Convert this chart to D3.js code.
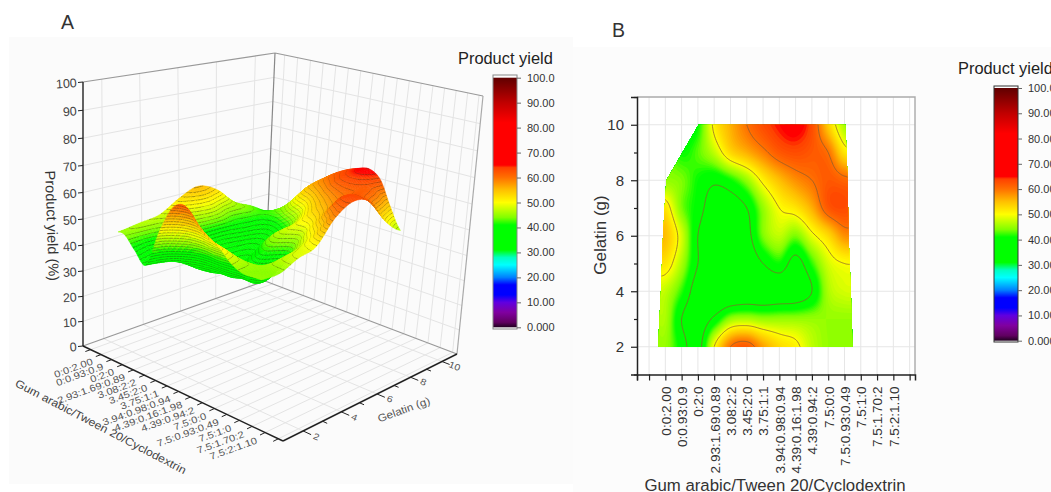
<!DOCTYPE html>
<html>
<head>
<meta charset="utf-8">
<script src="https://cdnjs.cloudflare.com/ajax/libs/d3/7.8.5/d3.min.js"></script>
<style>
  html, body { margin: 0; padding: 0; background: #fff; overflow: hidden; }
  svg { display: block; }
  text { font-family: "Liberation Sans", Arial, sans-serif; fill: #333; }
</style>
</head>
<body>
<svg id="chart" width="1051" height="492"></svg>
<script>
const categories = ["0:0:2.00", "0:0.93:0.9", "0:2:0", "2.93:1.69:0.89", "3.08:2:2", "3.45:2:0", "3.75:1:1",
  "3.94:0.98:0.94", "4.39:0.16:1.98", "4.39:0.94:2", "7.5:0:0", "7.5:0.93:0.49", "7.5:1:0", "7.5:1.70:2", "7.5:2:1.10"];

// yield, columns are category positions -1..12
const columnPos = [-1, 0, 1, 2, 3, 4, 5, 6, 7, 8, 9, 10, 11, 12];
const gelatinRows = [2, 3, 4, 5, 6, 7, 8, 9, 10];
const yieldG2  = [44, 45, 40, 36, 50, 60, 62, 57, 53, 51, 47, 45, 45, 45];
const yieldG3  = [45, 46, 38, 35, 39, 45, 46, 45, 45, 45, 45, 45, 45, 45];
const yieldG4  = [48, 47, 42, 35, 32, 32, 33, 33, 34, 34, 38, 46, 48, 48];
const yieldG5  = [51, 52, 46, 38, 34, 33, 34, 38, 41, 36, 42, 48, 50, 50];
const yieldG6  = [56, 55, 48, 38, 34, 31.5, 36, 44, 47, 44, 49, 53, 58, 58];
const yieldG7  = [53, 52, 44, 40, 35, 35, 38, 45, 50, 52, 56, 62, 63, 61];
const yieldG8  = [46, 45, 44, 41, 39, 41, 45, 51, 55, 58, 60, 62, 61, 60];
const yieldG9  = [44, 44, 41, 43, 47, 53, 56, 59, 62, 63, 62, 60, 52, 50];
const yieldG10 = [38, 38, 38, 41, 51, 56, 60, 63, 65, 66, 63, 54, 46, 44];
const yieldRows = [yieldG2, yieldG3, yieldG4, yieldG5, yieldG6, yieldG7, yieldG8, yieldG9, yieldG10];

// outline of the measured region, category position at each gelatin level
const edgeRows = [2, 4, 6, 8, 10];
const leftEdge = [-0.45, -0.27, -0.14, 0.06, 2.04];
const rightEdge = [11.5, 11.39, 11.25, 11.19, 11.06];

const zTicks = [0, 10, 20, 30, 40, 50, 60, 70, 80, 90, 100];
const gelatinTicks = [2, 4, 6, 8, 10];
const legendTicks = [0, 10, 20, 30, 40, 50, 60, 70, 80, 90, 100];
const legendLabels = ["0.000", "10.00", "20.00", "30.00", "40.00", "50.00", "60.00", "70.00", "80.00", "90.00", "100.0"];
const colorStops = [0, 2, 6, 10, 13, 17, 20, 25, 28, 31, 41, 44, 50, 55, 60, 64, 65, 82, 90, 100];
const colorValues = ["#200020", "#600060", "#8000a0", "#6000e0", "#0000ff", "#0000ff", "#0080ff", "#00ffff", "#00ffc0", "#00ff00",
  "#00ff00", "#80ff00", "#ffff00", "#ffc000", "#ff7000", "#ff4000", "#ff0000", "#ff0000", "#c00000", "#600000"];
const contourLevels = [38, 50, 60];

const color = d3.scaleLinear().domain(colorStops).range(colorValues).clamp(true);
const svg = d3.select("#chart");

svg.append("rect").attr("x", 9).attr("y", 37).attr("width", 564).attr("height", 447).attr("fill", "#fbfbfb");
svg.append("rect").attr("x", 573).attr("y", 47).attr("width", 478).attr("height", 445).attr("fill", "#fcfcfc");

const leftAt = d3.scaleLinear().domain(edgeRows).range(leftEdge);
const rightAt = d3.scaleLinear().domain(edgeRows).range(rightEdge);

// smooth reading between the grid values, only used for drawing
function catmull(p0, p1, p2, p3, t) {
  return 0.5 * (2 * p1 + (p2 - p0) * t + (2 * p0 - 5 * p1 + 4 * p2 - p3) * t * t + (3 * p1 - p0 - 3 * p2 + p3) * t * t * t);
}
function yieldAt(pos, gel) {
  const fx = Math.max(0, Math.min(columnPos.length - 1.0001, pos - columnPos[0]));
  const fy = Math.max(0, Math.min(gelatinRows.length - 1.0001, gel - gelatinRows[0]));
  const ix = Math.floor(fx), iy = Math.floor(fy);
  const cell = (r, c) => yieldRows[Math.max(0, Math.min(yieldRows.length - 1, r))][Math.max(0, Math.min(columnPos.length - 1, c))];
  const rows = [-1, 0, 1, 2].map(d => catmull(cell(iy + d, ix - 1), cell(iy + d, ix), cell(iy + d, ix + 1), cell(iy + d, ix + 2), fx - ix));
  return catmull(rows[0], rows[1], rows[2], rows[3], fy - iy);
}

const legendGradient = svg.append("defs").append("linearGradient").attr("id", "legendFill")
  .attr("x1", 0).attr("x2", 0).attr("y1", 1).attr("y2", 0);
legendGradient.selectAll("stop").data(colorStops).join("stop")
  .attr("offset", d => d / 100).attr("stop-color", d => color(d));

function drawLegend(x, yTop, yBottom, barTop, barBottom, titleX, titleY, frame) {
  const g = svg.append("g");
  const y = d3.scaleLinear().domain([0, 100]).range([yBottom, yTop]);
  g.append("text").attr("x", titleX).attr("y", titleY).attr("font-size", 16.4).style("fill", "#222").text("Product yield");
  g.append("rect").attr("x", x).attr("y", barTop).attr("width", 24).attr("height", barBottom - barTop).attr("fill", "#fff");
  g.append("rect").attr("x", x).attr("y", y(100)).attr("width", 24).attr("height", y(0) - y(100)).attr("fill", "url(#legendFill)");
  g.append("rect").attr("x", x).attr("y", barTop).attr("width", 24).attr("height", barBottom - barTop)
    .attr("fill", "none").attr("stroke", frame).attr("stroke-width", 1);
  const axis = d3.axisRight(y).tickValues(legendTicks).tickSize(4).tickPadding(6)
    .tickFormat((d, i) => legendLabels[i]);
  const ag = g.append("g").attr("transform", `translate(${x + 24},0)`).call(axis);
  ag.select(".domain").remove();
  ag.selectAll("line").attr("stroke", "#666");
  ag.selectAll("text").attr("font-size", 11).attr("font-family", "Liberation Sans").style("fill", "#333");
}

// ---------- panel A, perspective box ----------
function squareToQuad(q) {
  const [x0, y0] = q[0], [x1, y1] = q[1], [x2, y2] = q[2], [x3, y3] = q[3];
  const dx1 = x1 - x2, dx2 = x3 - x2, sx = x0 - x1 + x2 - x3;
  const dy1 = y1 - y2, dy2 = y3 - y2, sy = y0 - y1 + y2 - y3;
  const den = dx1 * dy2 - dx2 * dy1;
  const g = (sx * dy2 - dx2 * sy) / den, h = (dx1 * sy - sx * dy1) / den;
  const a = x1 - x0 + g * x1, b = x3 - x0 + h * x3, d = y1 - y0 + g * y1, e = y3 - y0 + h * y3;
  return (u, v) => {
    const w = g * u + h * v + 1;
    return [(a * u + b * v + x0) / w, (d * u + e * v + y0) / w];
  };
}
const floorMap = squareToQuad([[83, 346], [283, 441], [457, 354], [265, 281]]);
const roofMap = squareToQuad([[83, 82], [300, 122], [483, 96], [275, 53]]);
const uScale = d3.scaleLinear().domain([-1.74, 15.35]).range([0, 1]);
const vScale = d3.scaleLinear().domain([1, 11]).range([0, 1]);
const zScale = d3.scaleLinear().domain([0, 100]).range([0, 1]);
const zBend = 1.08;
function project(pos, gel, z) {
  const u = uScale(pos), v = vScale(gel), t = zScale(z);
  const f = floorMap(u, v), r = roofMap(u, v);
  const s = t / (t + zBend * (1 - t));
  return [f[0] + (r[0] - f[0]) * s, f[1] + (r[1] - f[1]) * s];
}
const line3 = d3.line();
const panelA = svg.append("g");
const grid3 = panelA.append("g").attr("stroke", "#e4e4e4").attr("stroke-width", 1).attr("fill", "none");
const catPositions = d3.range(-1, 16);
function seg(a, b, parent, stroke, width) {
  const p = (parent || grid3).append("path").attr("d", line3([a, b]));
  if (stroke) p.attr("stroke", stroke).attr("fill", "none");
  if (width) p.attr("stroke-width", width);
  return p;
}
const [xLo, xHi] = uScale.domain(), [gLo, gHi] = vScale.domain();
zTicks.slice(1, -1).forEach(z => {
  seg(project(xLo, gLo, z), project(xLo, gHi, z));
  seg(project(xLo, gHi, z), project(xHi, gHi, z));
});
gelatinTicks.forEach(g => {
  seg(project(xLo, g, 0), project(xLo, g, 100));
  seg(project(xLo, g, 0), project(xHi, g, 0));
});
catPositions.forEach(c => {
  seg(project(c, gHi, 0), project(c, gHi, 100));
  seg(project(c, gLo, 0), project(c, gHi, 0));
});
// box edges
const edges = panelA.append("g");
seg(project(xLo, gLo, 100), project(xLo, gHi, 100), edges, "#999", 1.2);
seg(project(xLo, gHi, 100), project(xHi, gHi, 100), edges, "#999", 1.2);
seg(project(xLo, gHi, 0), project(xLo, gHi, 100), edges, "#888", 1.2);
seg(project(xHi, gHi, 0), project(xHi, gHi, 100), edges, "#aaa", 1.2);
seg(project(xLo, gLo, 0), project(xLo, gHi, 0), edges, "#999", 1.2);
seg(project(xLo, gHi, 0), project(xHi, gHi, 0), edges, "#999", 1.2);
seg(project(xLo, gLo, 0), project(xLo, gLo, 100), edges, "#222", 1.4);
seg(project(xLo, gLo, 0), project(xHi, gLo, 0), edges, "#222", 1.4);
seg(project(xHi, gLo, 0), project(xHi, gHi, 0), edges, "#222", 1.4);

// surface, painted from the far corner to the near one
const meshX = d3.range(0, 1.0001, 1 / 90);
const meshG = d3.range(2, 10.0001, 8 / 56);
const meshPoint = (tx, g) => {
  const pos = leftAt(g) + (rightAt(g) - leftAt(g)) * tx;
  return { pos, g, z: yieldAt(pos, g) };
};
const mesh = meshG.map(g => meshX.map(tx => meshPoint(tx, g)));
const quads = [];
for (let r = 0; r < mesh.length - 1; r++) {
  for (let c = 0; c < meshX.length - 1; c++) {
    const pts = [mesh[r][c], mesh[r][c + 1], mesh[r + 1][c + 1], mesh[r + 1][c]];
    quads.push({ pts, mean: d3.mean(pts, d => d.z), depth: d3.mean(pts, d => uScale(d.pos) - vScale(d.g)) });
  }
}
quads.sort((a, b) => d3.ascending(a.depth, b.depth));
const isoStep = 1.2;
function isoPath(pts) {
  const lo = d3.min(pts, d => d.z), hi = d3.max(pts, d => d.z);
  let d = "";
  for (let k = Math.ceil(lo / isoStep); k * isoStep < hi; k++) {
    const lev = k * isoStep, hits = [];
    pts.forEach((a, i) => {
      const b = pts[(i + 1) % 4];
      if ((a.z < lev) !== (b.z < lev)) {
        const t = (lev - a.z) / (b.z - a.z);
        hits.push(project(a.pos + (b.pos - a.pos) * t, a.g + (b.g - a.g) * t, lev));
      }
    });
    if (hits.length >= 2) d += "M" + hits[0].map(n => n.toFixed(1)) + "L" + hits[1].map(n => n.toFixed(1));
  }
  return d;
}
const surface = panelA.append("g");
quads.forEach(q => {
  const fill = color(q.mean);
  surface.append("path")
    .attr("d", line3(q.pts.map(p => project(p.pos, p.g, p.z))) + "Z")
    .attr("fill", fill).attr("stroke", fill).attr("stroke-width", 0.5);
  const iso = isoPath(q.pts);
  if (iso) surface.append("path").attr("d", iso).attr("stroke", "#33331a").attr("stroke-opacity", 0.7).attr("stroke-width", 0.6).attr("fill", "none");
});

// axes of the box
const axis3 = panelA.append("g");
zTicks.forEach(z => {
  const p = project(xLo, gLo, z);
  seg(p, [p[0] - 5, p[1] + 0.5], axis3, "#222", 1);
  axis3.append("text").attr("transform", `translate(${p[0] - 6},${p[1] + 5}) rotate(-4)`)
    .attr("text-anchor", "end").attr("font-size", 12.5).style("fill", "#444").text(z);
});
catPositions.forEach(c => {
  const p = project(c, gLo, 0), q = project(c, gLo - 0.25, 0);
  seg(p, q, axis3, "#222", 1);
});
categories.forEach((name, i) => {
  const p = project(i, gLo - 0.45, 0);
  axis3.append("text").attr("transform", `translate(${p[0] + 2},${p[1] + 6}) rotate(-20) scale(1,0.85)`)
    .attr("text-anchor", "end").attr("font-size", 11.2).style("fill", "#555").text(name);
});
d3.range(2, 11).forEach(g => {
  const p = project(xHi, g, 0), q = project(xHi + (g % 2 ? 0.35 : 0.6), g, 0);
  seg(p, q, axis3, "#222", 1);
});
gelatinTicks.forEach(g => {
  const p = project(xHi + 0.9, g, 0);
  axis3.append("text").attr("transform", `translate(${p[0]},${p[1] + 3}) rotate(22) scale(1,0.85)`)
    .attr("text-anchor", "middle").attr("font-size", 10.5).style("fill", "#555").text(g);
});
panelA.append("text").attr("transform", "translate(47,226) rotate(88)").attr("text-anchor", "middle")
  .attr("font-size", 14.5).style("fill", "#333").text("Product yield (%)");
panelA.append("text").attr("transform", "translate(99,430) rotate(27.6) scale(1,0.9)").attr("text-anchor", "middle")
  .attr("font-size", 12.3).style("fill", "#444").text("Gum arabic/Tween 20/Cyclodextrin");
panelA.append("text").attr("transform", "translate(405,413) rotate(-20) scale(1,0.9)").attr("text-anchor", "middle")
  .attr("font-size", 11.8).style("fill", "#555").text("Gelatin (g)");
svg.append("text").attr("x", 61).attr("y", 29).attr("font-size", 19.5).attr("font-family", "Noto Sans").style("fill", "#333").text("A");
svg.append("text").attr("x", 612).attr("y", 37).attr("font-size", 19.5).attr("font-family", "Noto Sans").style("fill", "#333").text("B");
drawLegend(493, 77.7, 327.3, 75, 329, 458, 64, "#888");

// ---------- panel B, filled contours ----------
const xB = d3.scaleLinear().domain([-1.74, 15.33]).range([637, 915]);
const yB = d3.scaleLinear().domain([1, 11]).range([374.5, 97]);
const panelB = svg.append("g");
panelB.append("rect").attr("x", xB.range()[0]).attr("y", yB.range()[1])
  .attr("width", xB.range()[1] - xB.range()[0]).attr("height", yB.range()[0] - yB.range()[1]).attr("fill", "#fff");
const gridB = panelB.append("g").attr("stroke", "#e6e6e6").attr("stroke-width", 1);
catPositions.forEach(c => gridB.append("line").attr("x1", xB(c)).attr("x2", xB(c)).attr("y1", yB.range()[0]).attr("y2", yB.range()[1]));
gelatinTicks.forEach(g => gridB.append("line").attr("y1", yB(g)).attr("y2", yB(g)).attr("x1", xB.range()[0]).attr("x2", xB.range()[1]));

const cellsPerUnit = 16;
const nx = (columnPos[columnPos.length - 1] - columnPos[0]) * cellsPerUnit + 1;
const ny = (gelatinRows[gelatinRows.length - 1] - gelatinRows[0]) * cellsPerUnit + 1;
const sampled = new Array(nx * ny);
for (let j = 0; j < ny; j++) {
  for (let i = 0; i < nx; i++) {
    sampled[j * nx + i] = yieldAt(columnPos[0] + i / cellsPerUnit, gelatinRows[0] + j / cellsPerUnit);
  }
}
const contourPath = d3.geoPath(d3.geoTransform({
  point(x, y) {
    this.stream.point(xB(columnPos[0] + (x - 0.5) / cellsPerUnit), yB(gelatinRows[0] + (y - 0.5) / cellsPerUnit));
  }
}));
const outline = d3.range(2, 10.01, 0.5).map(g => [xB(leftAt(g)), yB(g)])
  .concat(d3.range(10, 1.99, -0.5).map(g => [xB(rightAt(g)), yB(g)]));
svg.append("clipPath").attr("id", "regionClip").append("path").attr("d", line3(outline) + "Z");
const filled = panelB.append("g").attr("clip-path", "url(#regionClip)");
const bandLevels = d3.range(20, 72, 0.5);
filled.selectAll("path.band").data(d3.contours().size([nx, ny]).thresholds(bandLevels)(sampled)).join("path")
  .attr("class", "band").attr("d", contourPath).attr("fill", d => color(d.value + 0.25));
filled.selectAll("path.iso").data(d3.contours().size([nx, ny]).thresholds(contourLevels)(sampled)).join("path")
  .attr("class", "iso").attr("d", contourPath).attr("fill", "none").attr("stroke", "#8a6030").attr("stroke-opacity", 0.85).attr("stroke-width", 0.9);

// frame and axes
panelB.append("path").attr("d", line3([[xB.range()[0], yB.range()[1]], [xB.range()[1], yB.range()[1]], [xB.range()[1], yB.range()[0]]]))
  .attr("fill", "none").attr("stroke", "#aaa").attr("stroke-width", 1.4);
const xAxisB = d3.axisBottom(xB).tickValues([xB.domain()[0]].concat(catPositions)).tickSize(6).tickPadding(0)
  .tickFormat(d => categories[d] || "");
const xg = panelB.append("g").attr("transform", `translate(0,${yB.range()[0]})`).call(xAxisB);
xg.selectAll("text").attr("transform", "rotate(-90)").attr("text-anchor", "end")
  .attr("x", -12).attr("y", 0).attr("dy", "0.36em").attr("font-size", 13.6).attr("font-family", "Liberation Sans").style("fill", "#333");
const yAxisB = d3.axisLeft(yB).tickValues(d3.range(1, 12)).tickSize(6).tickPadding(7)
  .tickFormat(d => gelatinTicks.includes(d) ? d : "");
const yg = panelB.append("g").attr("transform", `translate(${xB.range()[0]},0)`).call(yAxisB);
yg.selectAll("line").attr("x2", d => gelatinTicks.includes(d) ? -6 : -3);
yg.selectAll("text").attr("font-size", 15).attr("font-family", "Liberation Sans").style("fill", "#333");
[xg, yg].forEach(a => a.selectAll(".domain").attr("stroke", "#222").attr("stroke-width", 1.5));
[xg, yg].forEach(a => a.selectAll("line").attr("stroke", "#222").attr("stroke-width", 1.2));
panelB.append("text").attr("transform", "translate(606,235) rotate(-90)").attr("text-anchor", "middle")
  .attr("font-size", 17).style("fill", "#333").text("Gelatin (g)");
panelB.append("text").attr("x", 775).attr("y", 490.5).attr("text-anchor", "middle")
  .attr("font-size", 16.8).style("fill", "#333").text("Gum arabic/Tween 20/Cyclodextrin");
drawLegend(994, 88, 340.7, 86, 342, 958, 74, "#333");
</script>
</body>
</html>
